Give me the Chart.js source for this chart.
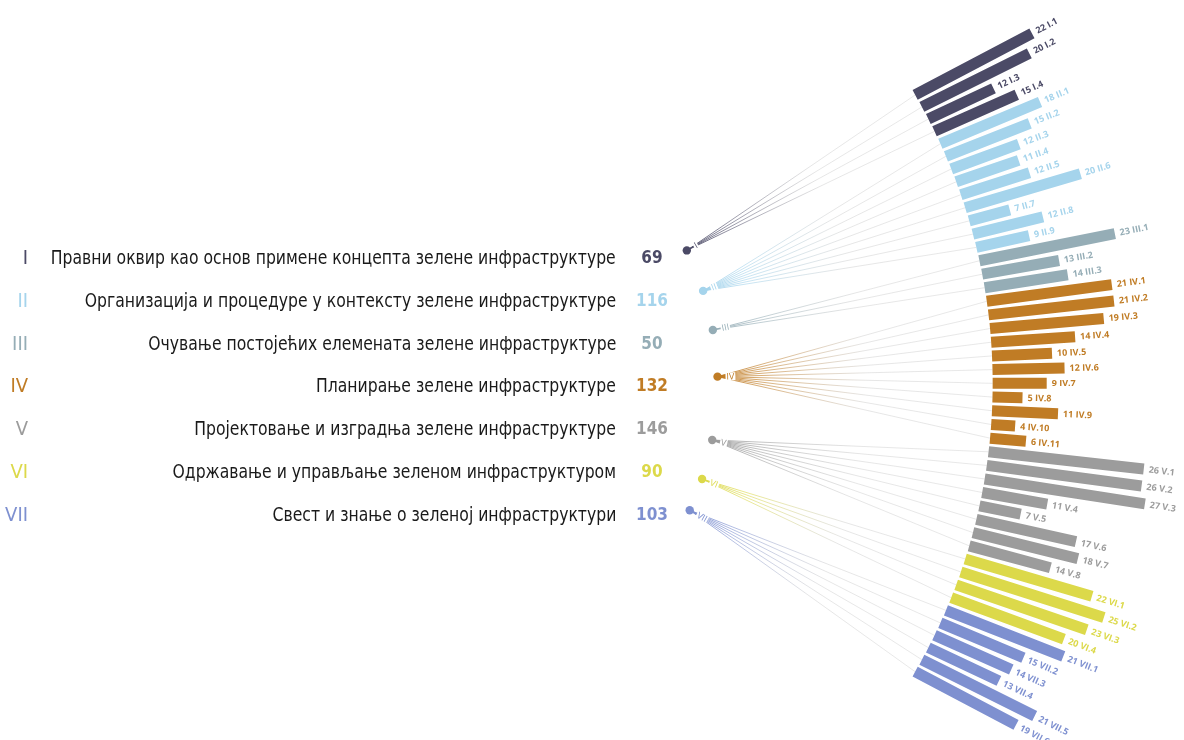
<!DOCTYPE html>
<html><head><meta charset="utf-8">
<script src="https://cdn.jsdelivr.net/npm/chart.js@4.4.1/dist/chart.umd.min.js"></script>
<style>
html,body{margin:0;padding:0;background:#fff;}
#wrap{position:relative;width:1184px;height:740px;overflow:hidden;}
#c{position:absolute;left:0;top:0;}
#leg{position:absolute;left:0;top:0;width:1184px;height:740px;pointer-events:none;font-family:"Liberation Sans Narrow","DejaVu Sans Condensed","Open Sans",sans-serif;}
.n,.t,.k{position:absolute;height:26px;line-height:26px;white-space:nowrap;}
.n{left:0;width:28px;text-align:right;font-size:20px;}
.t{left:-484px;width:1100px;text-align:right;font-size:20px;color:#1a1a1a;}
.t span{display:inline-block;transform-origin:right center;}
.k{left:620px;width:64px;text-align:center;font-size:17px;font-weight:bold;}
</style>
</head><body>
<div id="wrap"><canvas id="c" width="1184" height="740"></canvas><div id="leg"></div></div>
<script>
// ---- data ----
const numerals = ['I','II','III','IV','V','VI','VII'];
const categories = [
  'Правни оквир као основ примене концепта зелене инфраструктуре',
  'Организација и процедуре у контексту зелене инфраструктуре',
  'Очување постојећих елемената зелене инфраструктуре',
  'Планирање зелене инфраструктуре',
  'Пројектовање и изградња зелене инфраструктуре',
  'Одржавање и управљање зеленом инфраструктуром',
  'Свест и знање о зеленој инфраструктури'
];
const valuesI   = [22, 20, 12, 15];
const valuesII  = [18, 15, 12, 11, 12, 20, 7, 12, 9];
const valuesIII = [23, 13, 14];
const valuesIV  = [21, 21, 19, 14, 10, 12, 9, 5, 11, 4, 6];
const valuesV   = [26, 26, 27, 11, 7, 17, 18, 14];
const valuesVI  = [22, 25, 23, 20];
const valuesVII = [21, 15, 14, 13, 21, 19];
const groupValues = [valuesI, valuesII, valuesIII, valuesIV, valuesV, valuesVI, valuesVII];

// ---- style / layout ----
const colors = ['#4b4a66','#a5d4ec','#95adb6','#c07c25','#9c9c9c','#dcd94a','#7e90d0'];
const W = 1184, H = 740;
const PX = 6.05;            // px per answer
const CX = 411.5, CY = 383.5; // centre of the inner arc (px)
const R_IN = 584;           // inner radius of bars (px)
const POS_STEP = 1.362;     // deg per bar along the inner arc
const DIR_STEP = 1.267;     // deg per bar of bar direction
const R_DOT = 307;          // radius of category dots (px)
const BAR_W = 11;

const rad = d => d * Math.PI / 180;
const R0u = R_IN / PX, RDu = R_DOT / PX;
const polar = (r, deg) => ({x: r * Math.cos(rad(deg)), y: -r * Math.sin(rad(deg))});

const bars = [];
groupValues.forEach((vals, g) => vals.forEach((v, j) => bars.push({g, v, code: numerals[g] + '.' + (j + 1)})));
const mid = (bars.length - 1) / 2;
bars.forEach((b, i) => {
  b.off = i - mid;
  b.pos = b.off * POS_STEP;
  b.dir = b.off * DIR_STEP;
  b.inner = polar(R0u, b.pos);
  b.outer = {x: b.inner.x + b.v * Math.cos(rad(b.dir)), y: b.inner.y - b.v * Math.sin(rad(b.dir))};
});

const dots = groupValues.map((vals, g) => {
  const bs = bars.filter(b => b.g === g);
  const m = bs.reduce((s, b) => s + b.dir, 0) / bs.length;
  return polar(RDu, m);
});

function hexA(h, a){ const n = parseInt(h.slice(1),16); return `rgba(${n>>16},${(n>>8)&255},${n&255},${a})`; }

const datasets = [];
// bars
groupValues.forEach((vals, g) => {
  const data = [];
  bars.filter(b => b.g === g).forEach(b => data.push(b.inner, b.outer, {x: null, y: null}));
  datasets.push({data, showLine: true, borderColor: colors[g], borderWidth: BAR_W, borderCapStyle: 'butt',
    pointRadius: 0, spanGaps: false, order: 2, tension: 0});
});
// connectors
groupValues.forEach((vals, g) => {
  const data = [];
  bars.filter(b => b.g === g).forEach(b => data.push(dots[g], b.inner, {x: null, y: null}));
  datasets.push({data, showLine: true, borderWidth: 1, pointRadius: 0, spanGaps: false, order: 3, tension: 0,
    borderColor: (c) => {
      const ch = c.chart;
      if (!ch.chartArea || !ch.scales.x) return hexA(colors[g], 0.3);
      const px = ch.scales.x.getPixelForValue(dots[g].x), py = ch.scales.y.getPixelForValue(dots[g].y);
      const gr = ch.ctx.createRadialGradient(px, py, 0, px, py, 300);
      gr.addColorStop(0, hexA(colors[g], 0.95));
      gr.addColorStop(0.15, hexA(colors[g], 0.6));
      gr.addColorStop(0.5, 'rgba(200,200,200,0.45)');
      gr.addColorStop(1, 'rgba(200,200,200,0.4)');
      return gr;
    }});
});
// dots
datasets.push({data: dots, pointRadius: 4.2, pointBackgroundColor: colors, pointBorderWidth: 0, order: 1});

const labelPlugin = {
  id: 'labels',
  afterDatasetsDraw(chart) {
    const ctx = chart.ctx, xs = chart.scales.x, ys = chart.scales.y;
    ctx.save();
    ctx.textBaseline = 'middle';
    bars.forEach(b => {
      ctx.save();
      ctx.translate(xs.getPixelForValue(b.outer.x), ys.getPixelForValue(b.outer.y));
      ctx.rotate(rad(b.dir));
      ctx.fillStyle = colors[b.g];
      ctx.font = 'bold 9px "Open Sans", sans-serif';
      ctx.fillText(b.v + ' ' + b.code, 5, 0.5);
      ctx.restore();
    });
    // numerals near dots
    dots.forEach((d, g) => {
      const bs = bars.filter(b => b.g === g);
      const tgt = polar(R0u, bs.reduce((s, b) => s + b.pos, 0) / bs.length);
      const dx = xs.getPixelForValue(d.x), dy = ys.getPixelForValue(d.y);
      const tx = xs.getPixelForValue(tgt.x), ty = ys.getPixelForValue(tgt.y);
      const a = Math.atan2(ty - dy, tx - dx);
      ctx.save();
      ctx.translate(dx, dy); ctx.rotate(a);
      ctx.font = '9px "Open Sans", sans-serif';
      const w = ctx.measureText(numerals[g]).width;
      ctx.fillStyle = '#fff';
      ctx.fillRect(8, -4, w + 2, 8);
      ctx.fillStyle = colors[g];
      ctx.fillText(numerals[g], 9, 0.5);
      ctx.restore();
    });
    ctx.restore();
  }
};

new Chart(document.getElementById('c'), {
  type: 'scatter',
  data: {datasets},
  options: {
    responsive: false, animation: false, events: [],
    layout: {padding: 0},
    plugins: {legend: {display: false}, tooltip: {enabled: false}},
    scales: {
      x: {type: 'linear', display: false, min: -CX / PX, max: (W - CX) / PX},
      y: {type: 'linear', display: false, min: -(H - CY) / PX, max: CY / PX}
    }
  },
  plugins: [labelPlugin]
});

// ---- legend (left) ----
const leg = document.getElementById('leg');
const ROW0 = 257, ROWSTEP = 42.8;
const spans = [];
categories.forEach((name, g) => {
  const y = ROW0 + g * ROWSTEP - 13;
  const n = document.createElement('div'); n.className = 'n'; n.style.top = y + 'px'; n.style.color = colors[g]; n.textContent = numerals[g];
  const t = document.createElement('div'); t.className = 't'; t.style.top = y + 'px';
  const s = document.createElement('span'); s.textContent = name; t.appendChild(s); spans.push(s);
  const k = document.createElement('div'); k.className = 'k'; k.style.top = y + 'px'; k.style.color = colors[g];
  k.textContent = groupValues[g].reduce((a, b) => a + b, 0);
  leg.append(n, t, k);
});
const f = 565 / spans[0].getBoundingClientRect().width;
spans.forEach(s => s.style.transform = `scaleX(${f})`);
</script>
</body></html>
